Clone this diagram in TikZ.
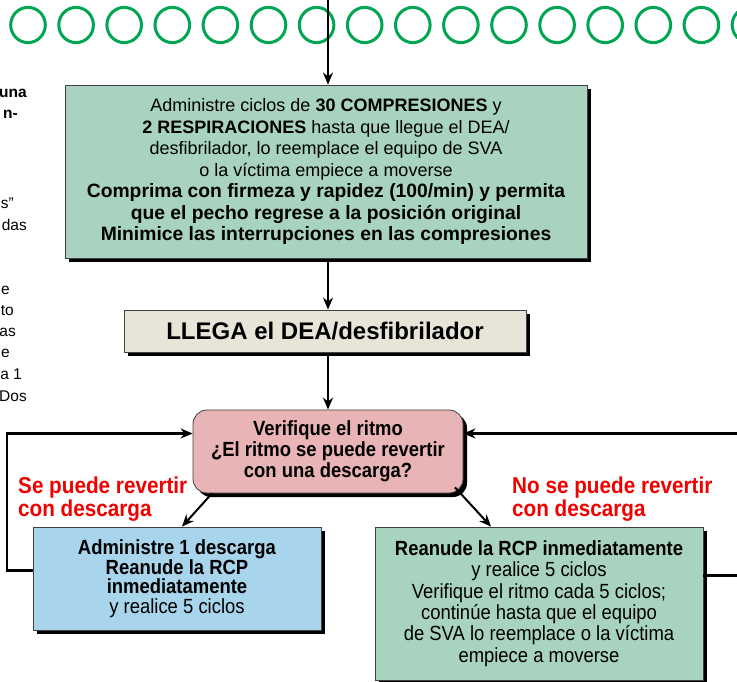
\documentclass[tikz,border=0pt]{standalone}
\usepackage{fontspec}
\setmainfont{Liberation Sans}
\newfontfamily\condfont[FakeStretch=0.9]{Liberation Sans}
\usetikzlibrary{shadows,arrows.meta}
\definecolor{ringgreen}{RGB}{0,166,81}
\definecolor{sage}{RGB}{168,211,190}
\definecolor{beige}{RGB}{230,229,216}
\definecolor{rose}{RGB}{233,180,181}
\definecolor{sky}{RGB}{168,212,236}
\definecolor{alarm}{RGB}{240,0,0}

\begin{document}
\begin{tikzpicture}[x=1pt,y=-1pt,>={Stealth[length=12pt,width=10pt]},
  box/.style={draw=black!75, line width=0.8pt, rectangle, align=center, inner sep=0pt,
    drop shadow={shadow xshift=4pt, shadow yshift=-4pt, opacity=1, fill=black}},
  ring/.style={draw=ringgreen, line width=3pt},
  flow/.style={->, line width=2pt},
  loopback/.style={->, line width=2.5pt},
  branch/.style={font=\condfont\bfseries\fontsize{23}{20}\selectfont, text=alarm, align=left, anchor=west, inner sep=0pt},
  margin/.style={anchor=east, inner sep=0pt, font=\fontsize{15.5}{18}\selectfont}]
\clip (0,0) rectangle (737,682);
\fill[white] (0,0) rectangle (737,682);

% row of rings
\foreach \k in {0,...,15}
  \draw[ring] (28+48.1*\k,25) ellipse [x radius=17.3, y radius=17.6];

% cut text of the next column
\node[margin, font=\fontsize{15.5}{18}\selectfont\bfseries] (m1) at (27,93) {una};
\node[margin, font=\fontsize{15.5}{18}\selectfont\bfseries] (m2) at (18,114) {n-};
\node[margin] (m3) at (14,203) {s”};
\node[margin] (m4) at (27,225) {das};
\node[margin] (m5) at (10,290) {e};
\node[margin] (m6) at (14,311) {to};
\node[margin] (m7) at (16,332) {as};
\node[margin] (m8) at (10,353) {e};
\node[margin] (m9) at (22,374) {a 1};
\node[margin] (m10) at (27,396) {Dos};

% boxes
\node[box, fill=sage, minimum width=522pt, minimum height=173pt,
  font=\fontsize{18}{21.5}\selectfont] (cycles) at (326,171.5)
  {Administre ciclos de \textbf{30 COMPRESIONES} y\\
   \textbf{2 RESPIRACIONES} hasta que llegue el DEA/\\
   desfibrilador, lo reemplace el equipo de SVA\\
   o la víctima empiece a moverse\\
   {\fontsize{19.3}{21.5}\selectfont\bfseries Comprima con firmeza y rapidez (100/min) y permita}\\
   {\fontsize{19.3}{21.5}\selectfont\bfseries que el pecho regrese a la posición original}\\
   {\fontsize{19.3}{21.5}\selectfont\bfseries Minimice las interrupciones en las compresiones}};
\node[box, fill=beige, minimum width=402pt, minimum height=42pt,
  font=\fontsize{24}{26}\selectfont\bfseries] (aed) at (325,331) {LLEGA el DEA/desfibrilador};
\node[box, fill=rose, rounded corners=14pt, minimum width=270pt, minimum height=83pt,
  font=\condfont\bfseries\fontsize{20.5}{21}\selectfont] (rhythm) at (328,451.5)
  {Verifique el ritmo\\ ¿El ritmo se puede revertir\\ con una descarga?};
\node[box, fill=sky, minimum width=288pt, minimum height=103pt,
  font=\condfont\fontsize{20.5}{19.5}\selectfont] (shock) at (177,578.5)
  {\textbf{Administre 1 descarga}\\ \textbf{Reanude la RCP}\\ \textbf{inmediatamente}\\ y realice 5 ciclos};
\node[box, fill=sage, minimum width=328pt, minimum height=153pt,
  font=\condfont\fontsize{20.5}{21.4}\selectfont] (resume) at (539,603.5)
  {\textbf{Reanude la RCP inmediatamente}\\ y realice 5 ciclos\\ Verifique el ritmo cada 5 ciclos;\\
   continúe hasta que el equipo\\ de SVA lo reemplace o la víctima\\ empiece a moverse};

% branch labels
\node[branch] (yes) at (18,499) {Se puede revertir\\con descarga};
\node[branch] (no) at (512,499) {No se puede revertir\\con descarga};

% connectors
\coordinate (top) at (328,-5);
\coordinate (railL) at (7,0);
\coordinate (railR) at (745,0);
\draw[flow] (top) -- (top |- cycles.north);
\draw[flow] ([yshift=-4pt]cycles.south -| top) -- (aed.north -| top);
\draw[flow] ([yshift=-4pt]aed.south -| top) -- (rhythm.north -| top);
\draw[flow] ([xshift=-116pt]rhythm.south) -- ([xshift=5pt]shock.north);
\draw[flow] ([xshift=127pt,yshift=6pt]rhythm.south) -- ([xshift=-48pt]resume.north);
\draw[loopback] ([yshift=8pt]shock.west) -- ([yshift=8pt]shock.west -| railL)
  -- ([yshift=18pt]rhythm.west -| railL) -- ([yshift=18pt]rhythm.west);
\draw[loopback] ([yshift=28pt]resume.east) -- ([yshift=28pt]resume.east -| railR)
  -- ([yshift=18pt]rhythm.east -| railR) -- ([yshift=18pt]rhythm.east);
\end{tikzpicture}
\end{document}
